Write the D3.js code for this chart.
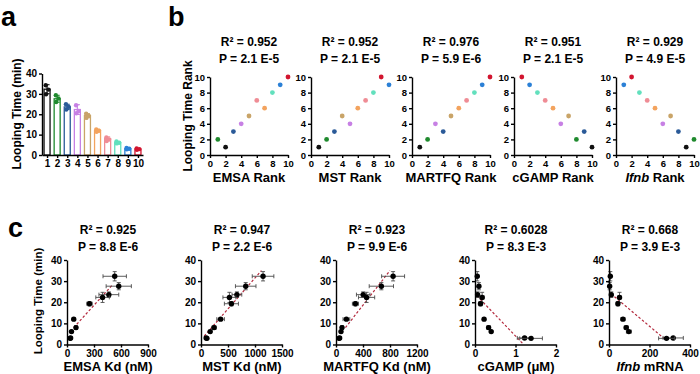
<!DOCTYPE html>
<html><head><meta charset="utf-8">
<script src="https://cdn.jsdelivr.net/npm/d3@7"></script>
<style>
body{margin:0;background:#fff}
svg{font-family:"Liberation Sans",Arial,Helvetica,sans-serif;font-weight:bold}
</style></head><body>
<svg id="chart" width="700" height="374"></svg>
<script>
// ---------- DATA (order: looping-time rank 1..10) ----------
const barLabels = ["1","2","3","4","5","6","7","8","9","10"];
const colors = ["#111111","#1f8a2e","#2a5a98","#c780e4","#c9a468","#f3a35e","#ef8c95","#62e0bd","#2b80d6","#d2152f"];
const loopTime = [32.3, 27.6, 23.6, 22.3, 19.3, 12.0, 8.0, 6.1, 3.1, 2.9];
const loopSD   = [2.2, 1.7, 1.3, 2.4, 1.0, 0.6, 0.9, 0.5, 0.3, 0.3];
const loopReps = [[34.2,29.8,32.1],[29.3,26.0,27.7],[24.9,22.3,23.6],[24.4,20.5,21.6],[20.3,18.2,19.2],
                  [12.5,11.4,11.9],[8.6,6.9,7.6],[6.6,5.7,6.0],[3.4,2.8,3.1],[3.2,2.6,2.9]];
const loopRank = [1,2,3,4,5,6,7,8,9,10];

const emsaRank   = [2,1,3,4,5,7,6,8,9,10];
const mstRank    = [1,2,3,5,4,6,7,8,10,9];
const martfqRank = [1,2,4,3,5,6,7,8,9,10];
const cgampRank  = [10,8,9,6,7,5,4,3,2,1];
const ifnbRank   = [9,10,8,6,7,5,4,3,1,2];

const emsaKd    = [530, 575, 465, 395, 250, 75, 100, 50, 40, 35];
const emsaErr   = [130, 140, 110, 75, 30, 10, 10, 8, 5, 5];
const mstKd     = [1149, 828, 665, 526, 563, 363, 242, 170, 95, 110];
const mstErr    = [200, 190, 90, 120, 130, 70, 40, 20, 15, 15];
const martfqKd  = [846, 672, 403, 453, 288, 154, 89, 74, 54, 45];
const martfqErr = [170, 180, 100, 120, 45, 50, 15, 15, 10, 10];
const cgampConc = [0.056, 0.096, 0.064, 0.176, 0.136, 0.224, 0.336, 0.40, 1.224, 1.384];
const cgampErr  = [0.02, 0.03, 0.03, 0.05, 0.04, 0.02, 0.04, 0.02, 0.18, 0.28];
const ifnbMRNA  = [6.5, 3.3, 11.4, 52, 44, 69, 85, 98, 317, 284];
const ifnbErr   = [3, 3, 5, 8, 8, 10, 10, 12, 50, 39];

const fitEMSA   = [[75, 8], [500, 28]];
const fitMST    = [[60, 4], [1120, 35]];
const fitMARTFQ = [[140, 8], [800, 35]];
const fitCGAMP  = [[0.05, 23], [1.2, 0]];
const fitIFNB   = [[10, 24], [270, 3]];

const bTitles = [["R² = 0.952","P = 2.1 E-5"],["R² = 0.952","P = 2.1 E-5"],["R² = 0.976","P = 5.9 E-6"],["R² = 0.951","P = 2.1 E-5"],["R² = 0.929","P = 4.9 E-5"]];
const cTitles = [["R² = 0.925","P = 8.8 E-6"],["R² = 0.947","P = 2.2 E-6"],["R² = 0.923","P = 9.9 E-6"],["R² = 0.6028","P = 8.3 E-3"],["R² = 0.668","P = 3.9 E-3"]];
const bXLabels = ["EMSA Rank","MST Rank","MARTFQ Rank","cGAMP Rank","Ifnb Rank"];
const cXLabels = ["EMSA Kd (nM)","MST Kd (nM)","MARTFQ Kd (nM)","cGAMP (μM)","Ifnb mRNA"];
const cXTicks = [[0,300,600,900],[0,500,1000,1500],[0,400,800,1200],[0,1,2],[0,200,400]];
const yTicksA = [0,10,20,30,40];
const rankTicks = [0,2,4,6,8,10];

// ---------- DRAW ----------
const FONT = '"Liberation Sans",Arial,Helvetica,sans-serif';
const svg = d3.select("#chart");
const plain = d => String(d);

function styleAxis(g, fs){
  g.attr("font-family", FONT).attr("font-size", fs).attr("font-weight","bold");
  g.select(".domain").attr("stroke","#000").attr("stroke-width",1.4);
  g.selectAll(".tick line").attr("stroke","#000").attr("stroke-width",1.4);
  g.selectAll(".tick text").attr("fill","#000");
}
function label(x,y,t,fs,anchor="middle",rot=false){
  const tx = svg.append("text").attr("x",x).attr("y",y).attr("font-size",fs)
    .attr("text-anchor",anchor).attr("font-weight","bold").attr("fill","#000");
  if(rot) tx.attr("transform",`rotate(-90,${x},${y})`);
  if(t.startsWith("Ifnb")){
    tx.append("tspan").attr("font-style","italic").text("Ifnb");
    tx.append("tspan").text(t.slice(4));
  } else tx.text(t);
  return tx;
}

// panel letters
label(1,26,"a",27,"start");
label(168,26,"b",27,"start");
label(8,237,"c",27,"start");

// ---------- Panel a ----------
{
  const x = d3.scaleLinear().domain([0.5,10.5]).range([42,143]);
  const y = d3.scaleLinear().domain([0,40]).range([155,73.5]);
  const g = svg.append("g");
  const bw = 6;
  loopTime.forEach((v,i)=>{
    const cx = x(i+1);
    g.append("rect").attr("x",cx-bw/2).attr("y",y(v)).attr("width",bw).attr("height",y(0)-y(v))
      .attr("fill","#fff").attr("stroke",colors[i]).attr("stroke-width",1.3);
    const lo = y(v-loopSD[i]), hi = y(v+loopSD[i]);
    g.append("line").attr("x1",cx).attr("x2",cx).attr("y1",lo).attr("y2",hi).attr("stroke",colors[i]).attr("stroke-width",1.1);
    g.append("line").attr("x1",cx-2.5).attr("x2",cx+2.5).attr("y1",hi).attr("y2",hi).attr("stroke",colors[i]).attr("stroke-width",1.1);
    g.append("line").attr("x1",cx-2.5).attr("x2",cx+2.5).attr("y1",lo).attr("y2",lo).attr("stroke",colors[i]).attr("stroke-width",1.1);
    const offs = [-1.3,-1.0,1.4];
    loopReps[i].forEach((r,j)=>{
      g.append("circle").attr("cx",cx+offs[j]).attr("cy",y(r)).attr("r",2.2).attr("fill",colors[i]);
    });
  });
  const ax = svg.append("g").attr("transform","translate(0,155)")
    .call(d3.axisBottom(x).tickValues(d3.range(1,11)).tickFormat((d,i)=>barLabels[i]).tickSize(3).tickPadding(2).tickSizeOuter(0));
  styleAxis(ax,10);
  const ay = svg.append("g").attr("transform","translate(42,0)")
    .call(d3.axisLeft(y).tickValues(yTicksA).tickFormat(plain).tickSize(3).tickPadding(2).tickSizeOuter(0));
  styleAxis(ay,10);
  label(21,114,"Looping Time (min)",12,"middle",true);
}

// ---------- Panel b ----------
{
  const x0s = [210,311,412,514,616];
  const ranks = [emsaRank, mstRank, martfqRank, cgampRank, ifnbRank];
  const y = d3.scaleLinear().domain([0,10]).range([155,77]);
  ranks.forEach((rk,k)=>{
    const x = d3.scaleLinear().domain([0,10]).range([x0s[k], x0s[k]+78]);
    const g = svg.append("g");
    rk.forEach((r,i)=>{
      g.append("circle").attr("cx",x(r)).attr("cy",y(loopRank[i])).attr("r",2.4).attr("fill",colors[i]);
    });
    const ax = svg.append("g").attr("transform","translate(0,155)")
      .call(d3.axisBottom(x).tickValues(rankTicks).tickFormat(plain).tickSize(3).tickPadding(2).tickSizeOuter(0));
    styleAxis(ax,9.5);
    const ay = svg.append("g").attr("transform",`translate(${x0s[k]},0)`)
      .call(d3.axisLeft(y).tickValues(rankTicks).tickFormat(plain).tickSize(3).tickPadding(2).tickSizeOuter(0));
    styleAxis(ay,9.5);
    const cx = x0s[k]+39;
    label(cx,46,bTitles[k][0],12);
    label(cx,63,bTitles[k][1],12);
    label(cx,182,bXLabels[k],13);
  });
  label(192,116,"Looping Time Rank",12,"middle",true);
}

// ---------- Panel c ----------
{
  const x0s = [67,201,336,475,609];
  const xs = [emsaKd, mstKd, martfqKd, cgampConc, ifnbMRNA];
  const xe = [emsaErr, mstErr, martfqErr, cgampErr, ifnbErr];
  const fits = [fitEMSA, fitMST, fitMARTFQ, fitCGAMP, fitIFNB];
  const y = d3.scaleLinear().domain([0,40]).range([344.5,260]);
  xs.forEach((xv,k)=>{
    const tks = cXTicks[k];
    const x = d3.scaleLinear().domain([0,tks[tks.length-1]]).range([x0s[k], x0s[k]+81]);
    const g = svg.append("g");
    g.append("line").attr("x1",x(fits[k][0][0])).attr("y1",y(fits[k][0][1]))
      .attr("x2",x(fits[k][1][0])).attr("y2",y(fits[k][1][1]))
      .attr("stroke","#b3283c").attr("stroke-width",1.2).attr("stroke-dasharray","2.5,2");
    xv.forEach((v,i)=>{
      const cx = x(v), cy = y(loopTime[i]);
      const xl = x(Math.max(0,v-xe[k][i])), xr = x(v+xe[k][i]);
      const yl = y(loopTime[i]-loopSD[i]), yh = y(loopTime[i]+loopSD[i]);
      const ec = "#4a4a4a";
      g.append("line").attr("x1",xl).attr("x2",xr).attr("y1",cy).attr("y2",cy).attr("stroke",ec).attr("stroke-width",0.9);
      [xl,xr].forEach(xx=>g.append("line").attr("x1",xx).attr("x2",xx).attr("y1",cy-2).attr("y2",cy+2).attr("stroke",ec).attr("stroke-width",0.9));
      g.append("line").attr("x1",cx).attr("x2",cx).attr("y1",yl).attr("y2",yh).attr("stroke",ec).attr("stroke-width",0.9);
      [yl,yh].forEach(yy=>g.append("line").attr("x1",cx-2).attr("x2",cx+2).attr("y1",yy).attr("y2",yy).attr("stroke",ec).attr("stroke-width",0.9));
      g.append("circle").attr("cx",cx).attr("cy",cy).attr("r",2.7).attr("fill","#000");
    });
    const ax = svg.append("g").attr("transform","translate(0,344.5)")
      .call(d3.axisBottom(x).tickValues(tks).tickFormat(plain).tickSize(3).tickPadding(2).tickSizeOuter(0));
    styleAxis(ax,10);
    const ay = svg.append("g").attr("transform",`translate(${x0s[k]},0)`)
      .call(d3.axisLeft(y).tickValues(yTicksA).tickFormat(plain).tickSize(3).tickPadding(2).tickSizeOuter(0));
    styleAxis(ay,10);
    const cx = x0s[k]+41;
    label(cx,234,cTitles[k][0],12);
    label(cx,251,cTitles[k][1],12);
    label(cx,371,cXLabels[k],13);
  });
  label(42,301,"Looping Time (min)",11.5,"middle",true);
}
</script>
</body></html>
